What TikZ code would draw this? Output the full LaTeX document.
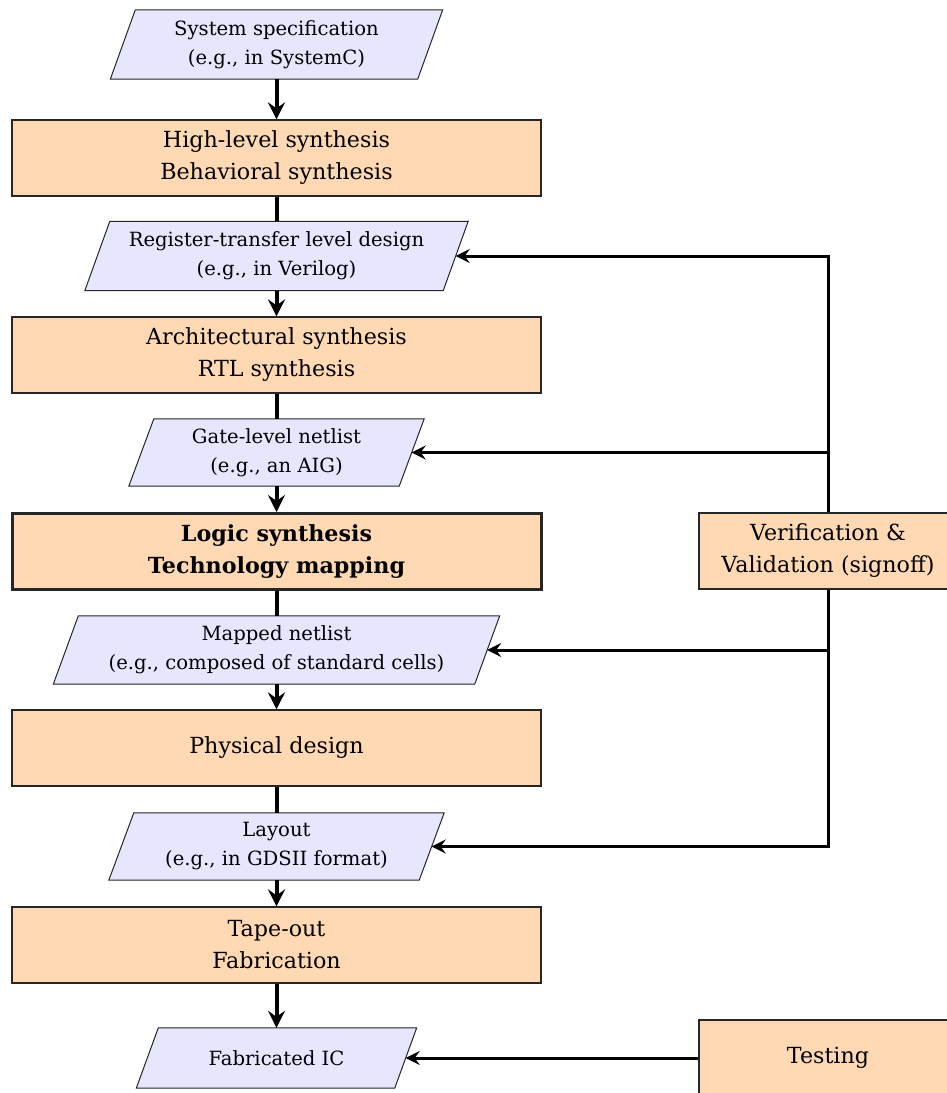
\documentclass[tikz,border=0pt]{standalone}
\usepackage{fontspec}
\setmainfont{DejaVu Serif}
\usetikzlibrary{arrows.meta,backgrounds,calc}
\newcommand\fbig{\fontsize{22.2}{32}\selectfont}
\newcommand\fsmall{\fontsize{19.6}{29}\selectfont}
\definecolor{peach}{RGB}{255,217,179}
\definecolor{lav}{RGB}{230,230,255}
\tikzset{
  procbox/.style={draw=black!85, line width=1.2pt, fill=peach, minimum width=529pt,
    minimum height=76pt, align=center, font=\fbig, inner sep=0pt},
  keybox/.style={procbox, line width=3pt},
  sidebox/.style={procbox, minimum width=258pt},
  databox/.style={draw=none, align=center, font=\fsmall, inner sep=0pt},
  parafill/.style={draw=black!85, line width=1pt, fill=lav},
  flow/.style={line width=4pt, -{Stealth[length=17pt,width=17pt,inset=6pt]}},
  flowline/.style={line width=4pt},
  feed/.style={line width=3pt, -{Stealth[length=14pt,width=14pt,inset=5pt]}},
}
\newcommand\mkpara[7]{%
  \node[databox, minimum width=#4pt, minimum height=#5pt] (#1) at (#2,#3) {#6};
  \begin{pgfonlayer}{background}
    \path[parafill] ($(#1.south west)+(-#7,0)$) -- ($(#1.north west)+(#7,0)$)
      -- ($(#1.north east)+(#7,0)$) -- ($(#1.south east)+(-#7,0)$) -- cycle;
  \end{pgfonlayer}
}
\begin{document}
\begin{tikzpicture}[x=1pt,y=-1pt]
\useasboundingbox (0,0) rectangle (947,1093);
% main column
\mkpara{sys}{276.5}{44.5}{307}{69}{System specification\\(e.g., in SystemC)}{12.5}
\node[procbox] (hls) at (276.5,158) {High-level synthesis\\Behavioral synthesis};
\mkpara{rtl}{276.5}{256}{358}{69}{Register-transfer level design\\(e.g., in Verilog)}{12.5}
\node[procbox] (arch) at (276.5,355) {Architectural synthesis\\RTL synthesis};
\mkpara{gate}{276.5}{452.5}{270}{67}{Gate-level netlist\\(e.g., an AIG)}{12.5}
\node[keybox] (logic) at (276.5,551.5) {\textbf{Logic synthesis}\\\textbf{Technology mapping}};
\mkpara{mapped}{276.5}{650}{421}{68}{Mapped netlist\\(e.g., composed of standard cells)}{12.5}
\node[procbox] (phys) at (276.5,748) {Physical design};
\mkpara{layout}{276.5}{846.5}{310}{67}{Layout\\(e.g., in GDSII format)}{12.5}
\node[procbox] (tape) at (276.5,945) {Tape-out\\Fabrication};
\mkpara{fab}{276.5}{1058}{258}{60}{Fabricated IC}{11}
% side boxes
\node[sidebox] (ver) at (828,551) {Verification \&\\Validation (signoff)};
\node[sidebox] (test) at (828,1058) {Testing};
% main flow
\draw[flow] (sys) -- (hls);
\draw[flowline] (hls) -- (rtl);
\draw[flow] (rtl) -- (arch);
\draw[flowline] (arch) -- (gate);
\draw[flow] (gate) -- (logic);
\draw[flowline] (logic) -- (mapped);
\draw[flow] (mapped) -- (phys);
\draw[flowline] (phys) -- (layout);
\draw[flow] (layout) -- (tape);
\draw[flow] (tape) -- (fab);
% feedback
\draw[feed] (ver.north) |- (rtl.east);
\draw[feed] (ver.north) |- (gate.east);
\draw[feed] (ver.south) |- (mapped.east);
\draw[feed] (ver.south) |- (layout.east);
\draw[feed] (test) -- (fab);
\end{tikzpicture}
\end{document}
